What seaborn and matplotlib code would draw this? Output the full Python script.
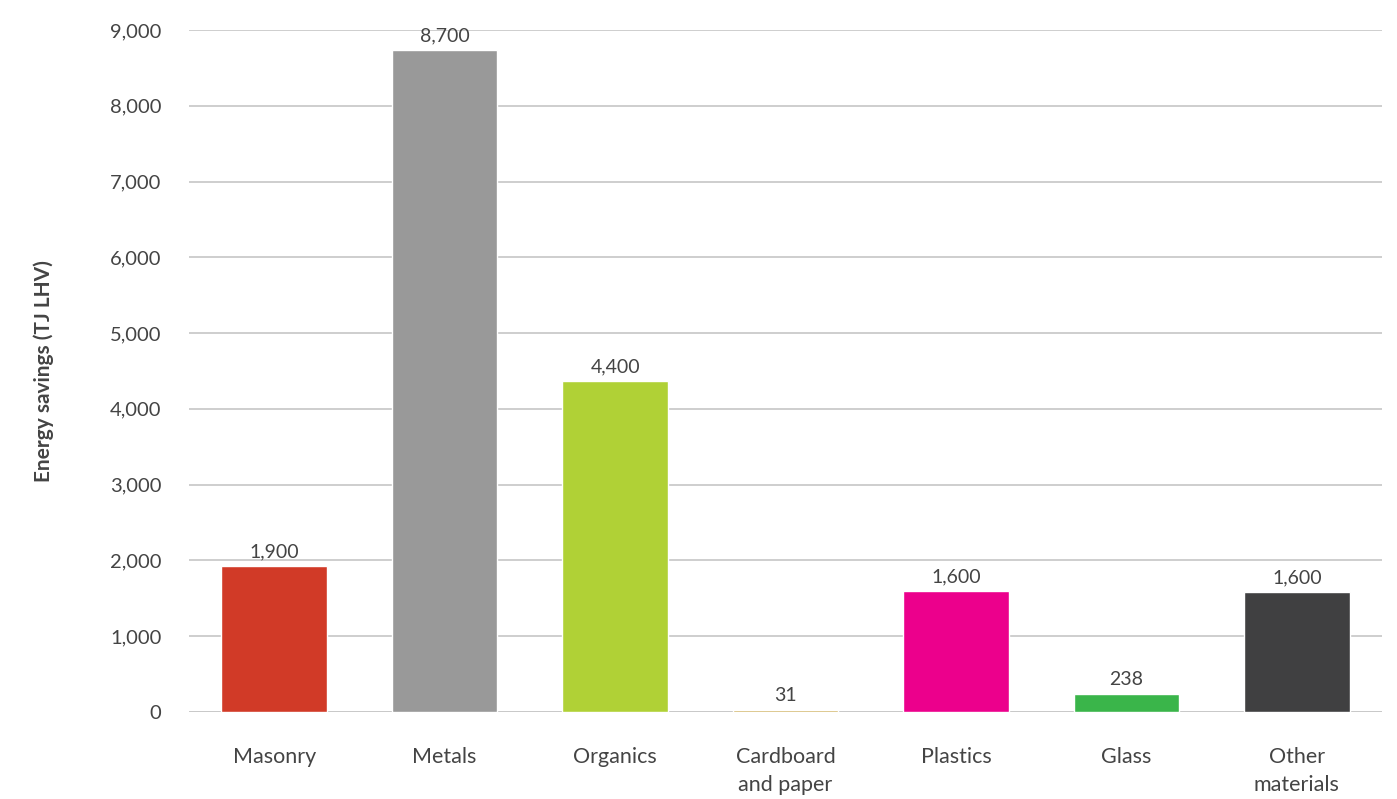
import matplotlib
matplotlib.use('Agg')
import matplotlib.pyplot as plt
import seaborn as sns
import pandas as pd

# Datos
categorias = ['Masonry', 'Metals', 'Organics', 'Cardboard\nand paper', 'Plastics', 'Glass', 'Other\nmaterials']
valores = [1930, 8730, 4370, 31, 1600, 238, 1580]
etiquetas = ['1,900', '8,700', '4,400', '31', '1,600', '238', '1,600']
colores = ['#D13A27', '#999999', '#B0D136', '#C9A84E', '#EC008C', '#3AB54A', '#404041']

sns.set_style('white')
plt.rcParams['font.family'] = ['Lato', 'DejaVu Sans']

df = pd.DataFrame({'categoria': categorias, 'valor': valores})

fig = plt.figure(figsize=(13.97, 7.99), dpi=100)
ax = fig.add_axes([0.1353, 0.1089, 0.854, 0.8536])

sns.barplot(data=df, x='categoria', y='valor', hue='categoria', palette=colores,
            width=0.62, legend=False, ax=ax, saturation=1)

ax.set_ylim(0, 9000)
ax.set_yticks(range(0, 9001, 1000))
ax.set_yticklabels([f'{v:,}' for v in range(0, 9001, 1000)])
ax.yaxis.grid(True, color='#c6c6c6', linewidth=1.2)
ax.set_axisbelow(True)
for s in ax.spines.values():
    s.set_visible(False)
ax.axhline(0, color='#d9d9d9', linewidth=2, zorder=0)

ax.tick_params(axis='y', length=0, pad=20, labelsize=14.5, labelcolor='#444444')
ax.tick_params(axis='x', length=0, pad=25, labelsize=15.5, labelcolor='#444444')
for lbl in ax.get_xticklabels():
    lbl.set_linespacing(1.5)
ax.set_xlabel('')
ax.set_ylabel('Energy savings (TJ LHV)', fontsize=15, fontweight='bold', color='#444444', labelpad=40)

# Etiquetas de valor sobre las barras
for i, (v, t) in enumerate(zip(valores, etiquetas)):
    ax.annotate(t, (i, v), xytext=(0, 4), textcoords='offset points',
                ha='center', va='bottom', fontsize=14, color='#444444')

fig.savefig('out.png', dpi=100)
